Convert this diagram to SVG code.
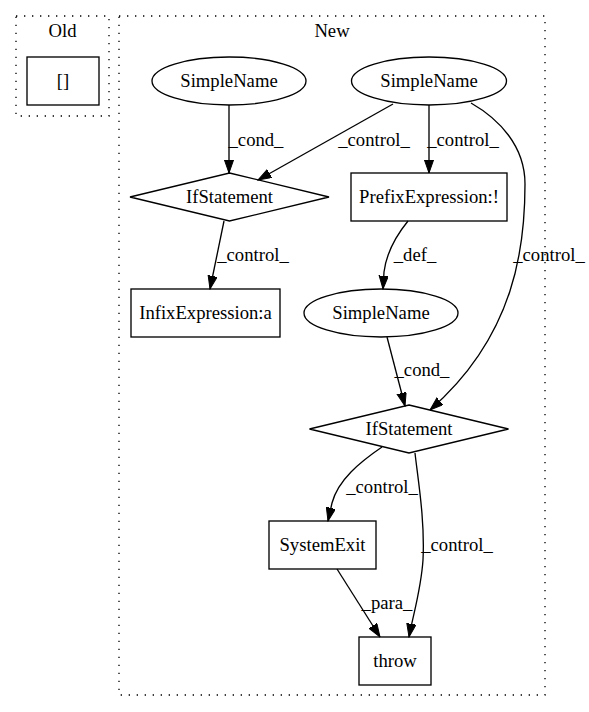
<svg xmlns="http://www.w3.org/2000/svg" width="589" height="712" viewBox="0 0 589 712">
<style>
text{font-family:"Liberation Serif","Times New Roman",serif;font-size:18.67px;text-anchor:middle;fill:#000}
.n{fill:none;stroke:#000;stroke-width:1.33}
.cl{fill:none;stroke:#000;stroke-width:1.33;stroke-dasharray:1.33,6.67}
.e{fill:none;stroke:#000;stroke-width:1.33;marker-end:url(#ah)}
</style>
<defs>
<marker id="ah" markerUnits="userSpaceOnUse" markerWidth="14" markerHeight="10" refX="13.3" refY="4.67" orient="auto">
<path d="M0,0 L13.3,4.67 L0,9.33 z" fill="#000" stroke="#000" stroke-width="1"/>
</marker>
</defs>
<rect width="589" height="712" fill="#fff"/>
<g id="cluster_old">
<rect class="cl" x="16" y="16" width="93" height="100"/>
<text x="62.5" y="37">Old</text>
</g>
<g id="cluster_new">
<rect class="cl" x="119" y="16" width="426" height="679"/>
<text x="332" y="37">New</text>
</g>
<g id="connectors">
<path class="e" d="M229,105 L229,173"/>
<text x="256" y="146">_cond_</text>
<path class="e" d="M393,104 L258,180"/>
<text x="374" y="146">_control_</text>
<path class="e" d="M429,105 L429,173"/>
<text x="463" y="146">_control_</text>
<path class="e" d="M471,103 C499,119 525,146 525,184 C525,245 516,335 430,410"/>
<text x="549" y="261">_control_</text>
<path class="e" d="M224,221 L210,289"/>
<text x="253" y="261">_control_</text>
<path class="e" d="M408,221 C395,237 386,256 384,272 L383,289"/>
<text x="415" y="261">_def_</text>
<path class="e" d="M387,337 L405,406"/>
<text x="422" y="376">_cond_</text>
<path class="e" d="M382,447 C360,462 338,480 332,503 L328,521"/>
<text x="382" y="493">_control_</text>
<path class="e" d="M415,453 C418,480 425,520 423,560 C421,590 413,615 409,637"/>
<text x="457" y="551">_control_</text>
<path class="e" d="M337,569 L380,637"/>
<text x="387" y="609">_para_</text>
</g>
<g id="node_old_brackets">
<rect class="n" x="27" y="57" width="72" height="48"/>
<text x="63" y="87">[]</text>
</g>
<g id="node_simplename1">
<ellipse class="n" cx="229" cy="81" rx="77" ry="24"/>
<text x="229" y="87">SimpleName</text>
</g>
<g id="node_simplename2">
<ellipse class="n" cx="429" cy="81" rx="77.5" ry="24"/>
<text x="429" y="87">SimpleName</text>
</g>
<g id="node_ifstatement1">
<polygon class="n" points="229.5,173 329,197 229.5,221 130,197"/>
<text x="229.5" y="203">IfStatement</text>
</g>
<g id="node_prefix">
<rect class="n" x="351" y="173" width="156" height="48"/>
<text x="429" y="203">PrefixExpression:!</text>
</g>
<g id="node_infix">
<rect class="n" x="131" y="289" width="149" height="48"/>
<text x="205.5" y="319">InfixExpression:a</text>
</g>
<g id="node_simplename3">
<ellipse class="n" cx="381" cy="313" rx="77" ry="24"/>
<text x="381" y="319">SimpleName</text>
</g>
<g id="node_ifstatement2">
<polygon class="n" points="409,405 508.5,429 409,453 309.5,429"/>
<text x="409" y="435">IfStatement</text>
</g>
<g id="node_systemexit">
<rect class="n" x="269" y="521" width="107" height="48"/>
<text x="322.5" y="551">SystemExit</text>
</g>
<g id="node_throw">
<rect class="n" x="359" y="637" width="72" height="48"/>
<text x="395" y="667">throw</text>
</g>
</svg>
